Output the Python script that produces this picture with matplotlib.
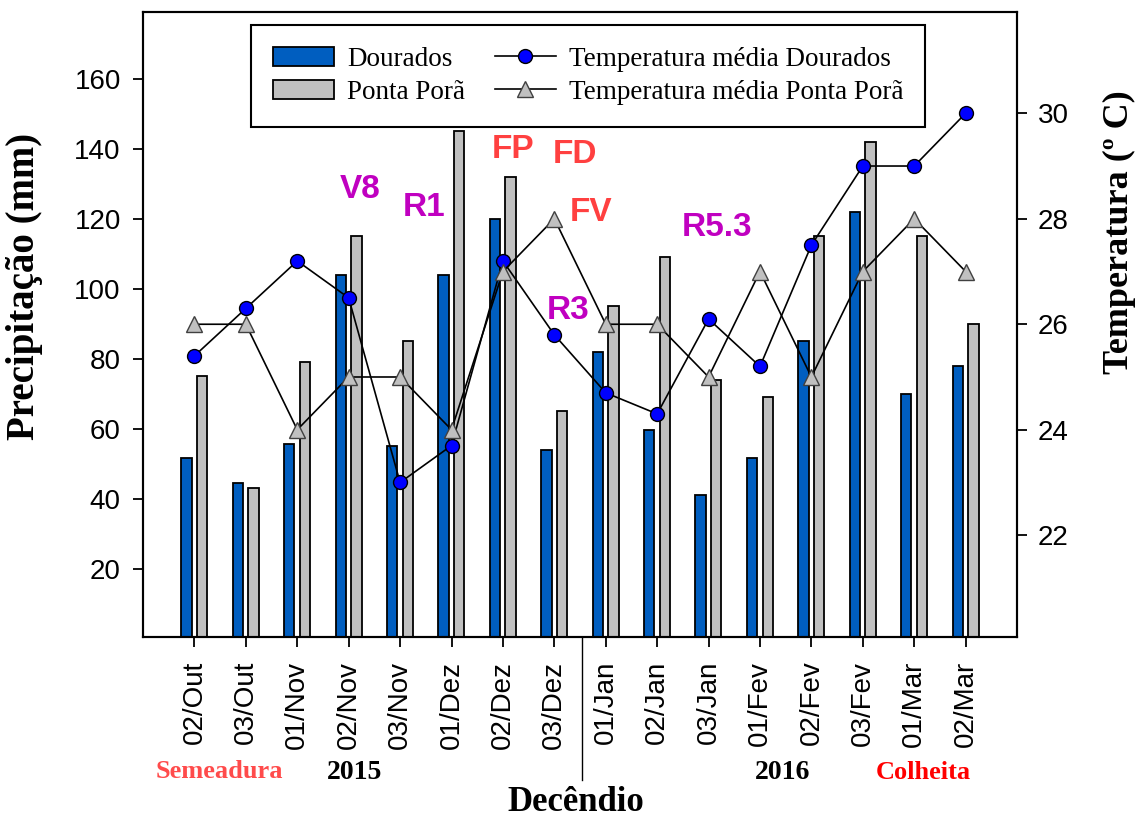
import numpy as np
import matplotlib
matplotlib.use('Agg')
import matplotlib.pyplot as plt
from matplotlib.patches import Patch
from matplotlib.lines import Line2D

# decendios (x categories)
decendios = ['02/Out', '03/Out', '01/Nov', '02/Nov', '03/Nov', '01/Dez', '02/Dez', '03/Dez',
             '01/Jan', '02/Jan', '03/Jan', '01/Fev', '02/Fev', '03/Fev', '01/Mar', '02/Mar']

# precipitation (mm)
prec_dourados = [51.5, 44.5, 55.5, 104, 55, 104, 120, 54, 82, 59.5, 41, 51.5, 85, 122, 70, 78]
prec_pontapora = [75, 43, 79, 115, 85, 145, 132, 65, 95, 109, 74, 69, 115, 142, 115, 90]

# mean temperature (C)
temp_dourados = [25.4, 26.3, 27.2, 26.5, 23.0, 23.7, 27.2, 25.8, 24.7, 24.3, 26.1, 25.2, 27.5, 29.0, 29.0, 30.0]
temp_pontapora = [26, 26, 24, 25, 25, 24, 27, 28, 26, 26, 25, 27, 25, 27, 28, 27]

# phenology labels (text, x index, precipitation level, colour)
stages = [('V8', 3.23, 128.4, '#C000C0'), ('R1', 4.46, 123.2, '#C000C0'),
          ('FP', 6.2, 139.8, '#FF4040'), ('FD', 7.41, 138.4, '#FF4040'),
          ('FV', 7.72, 121.8, '#FF4040'), ('R3', 7.26, 93.8, '#C000C0'),
          ('R5.3', 10.17, 117.5, '#C000C0')]

blue = '#005EC0'
gray = '#C0C0C0'
sans = 'Liberation Sans'
serif = 'Liberation Serif'

fig = plt.figure(figsize=(11.36, 8.17), dpi=100)
ax = fig.add_axes([0.1259, 0.2203, 0.7694, 0.765])
ax2 = ax.twinx()

x = np.arange(len(decendios))
w = 0.2
ax.bar(x - 0.155, prec_dourados, w, color=blue, edgecolor='black', linewidth=1.3)
ax.bar(x + 0.15, prec_pontapora, w, color=gray, edgecolor='black', linewidth=1.3)

ax2.plot(x, temp_dourados, color='black', linewidth=1.2, marker='o', markersize=10,
         markerfacecolor='#0000FF', markeredgecolor='black', markeredgewidth=1.0)
ax2.plot(x, temp_pontapora, color='black', linewidth=1.2, marker='^', markersize=11,
         markerfacecolor=gray, markeredgecolor='#404040', markeredgewidth=1.0)

ax.set_xlim(-1, 16)
ax.set_ylim(0.5, 179)
ax2.set_ylim(20.07, 31.92)

ax.set_yticks(np.arange(20, 161, 20))
ax2.set_yticks(np.arange(22, 31, 2))
ax.set_xticks(x)
ax.set_xticklabels(decendios, rotation=90, fontsize=20, family=sans)
for lab in ax.get_yticklabels():
    lab.set_family(sans)
    lab.set_fontsize(20)
for lab in ax2.get_yticklabels():
    lab.set_family(sans)
    lab.set_fontsize(20)

ax.tick_params(axis='y', direction='out', length=7, width=1.3, pad=9)
ax.tick_params(axis='x', direction='out', length=7, width=1.3, pad=10)
ax2.tick_params(axis='y', direction='out', length=7, width=1.3, pad=8)
for a in (ax, ax2):
    for s in a.spines.values():
        s.set_linewidth(1.5)

ax.set_ylabel('Precipitação (mm)', family=serif, fontsize=28, fontweight='bold')
ax.yaxis.set_label_coords(-0.1144, 0.5616)
ax2.set_ylabel('Temperatura (º C)', family=serif, fontsize=26, fontweight='bold')
ax2.yaxis.set_label_coords(1.098, 0.648)

for txt, xi, yi, col in stages:
    ax.text(xi, yi, txt, color=col, fontsize=24, fontweight='bold', family=sans,
            ha='center', va='center')

# separator between years
ax.plot([7.54, 7.54], [0, -0.229], transform=ax.get_xaxis_transform(),
        color='black', linewidth=1.0, clip_on=False)

fig.text(0.193, 0.056, 'Semeadura', color='#FF4B4B', family=serif, fontsize=19,
         fontweight='bold', ha='center', va='center')
fig.text(0.312, 0.054, '2015', color='black', family=serif, fontsize=20,
         fontweight='bold', ha='center', va='center')
fig.text(0.689, 0.054, '2016', color='black', family=serif, fontsize=20,
         fontweight='bold', ha='center', va='center')
fig.text(0.8125, 0.054, 'Colheita', color='#FF0000', family=serif, fontsize=19,
         fontweight='bold', ha='center', va='center')
fig.text(0.507, 0.018, 'Decêndio', color='black', family=serif, fontsize=25,
         fontweight='bold', ha='center', va='center')

handles = [Patch(facecolor=blue, edgecolor='black', linewidth=1.3),
           Patch(facecolor=gray, edgecolor='black', linewidth=1.3),
           Line2D([], [], color='black', linewidth=1.2, marker='o', markersize=10,
                  markerfacecolor='#0000FF', markeredgecolor='black'),
           Line2D([], [], color='black', linewidth=1.2, marker='^', markersize=11,
                  markerfacecolor=gray, markeredgecolor='#404040')]
labels = ['Dourados', 'Ponta Porã', 'Temperatura média Dourados', 'Temperatura média Ponta Porã']
leg = ax2.legend(handles, labels, ncol=2, loc='upper left', bbox_to_anchor=(0.1236, 0.979),
                 prop={'family': serif, 'size': 19.5}, frameon=True, fancybox=False,
                 edgecolor='black', framealpha=1, handlelength=2.25, handleheight=0.7,
                 columnspacing=1.1, handletextpad=0.5, borderpad=0.8, labelspacing=0.3,
                 borderaxespad=0)
leg.get_frame().set_linewidth(1.5)

fig.savefig('out.png', dpi=100)
